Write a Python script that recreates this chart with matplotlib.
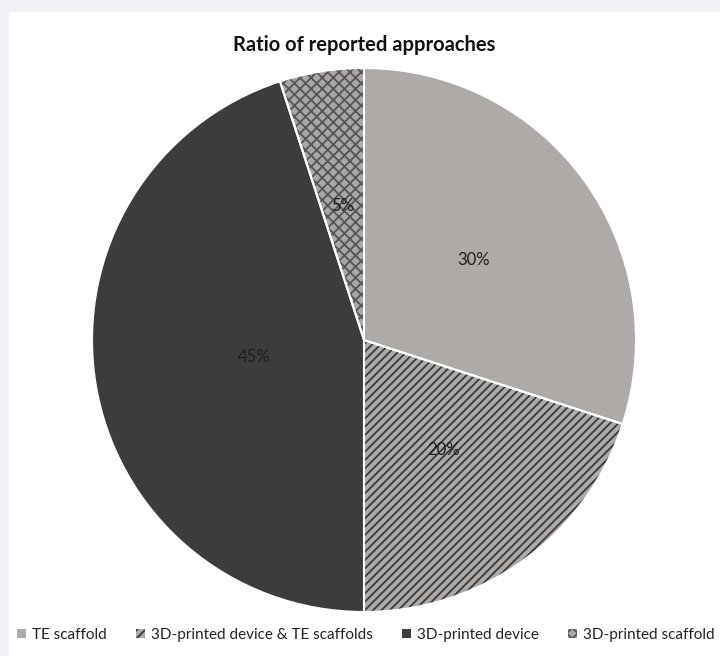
"""Pie chart: ratio of reported approaches."""

import matplotlib
matplotlib.use("Agg")
import matplotlib.pyplot as plt
from matplotlib.patches import Patch, Rectangle

labels = ["TE scaffold", "3D-printed device & TE scaffolds",
          "3D-printed device", "3D-printed scaffold"]
shares = [30, 20, 45, 5]

face_colors = ["#aeaaa8", "#aeaaa8", "#3c3c3c", "#a9a6a5"]
hatch_colors = ["#aeaaa8", "#3a3a3a", "#3c3c3c", "#555555"]
hatches = [None, "////", None, "xxx"]

plt.rcParams["font.family"] = ["Lato", "DejaVu Sans"]
plt.rcParams["hatch.linewidth"] = 1.3

W, H = 720, 656
fig = plt.figure(figsize=(W / 100, H / 100), dpi=100, facecolor="#f1f2f6")
# white canvas inside the light gray frame
fig.patches.append(Rectangle((9 / W, 0), 1, 1 - 12 / H, transform=fig.transFigure,
                             facecolor="white", edgecolor="none", zorder=-5))

cx, cy, r = 364, 340, 272
ax = fig.add_axes([(cx - r) / W, (H - cy - r) / H, 2 * r / W, 2 * r / H])
ax.patch.set_visible(False)

wedges, _, autotexts = ax.pie(
    shares, startangle=90, counterclock=False, colors=face_colors,
    autopct="%d%%", pctdistance=0.5,
    wedgeprops=dict(linewidth=0),
    textprops=dict(fontsize=12, color="#1e1e1e"),
)
for w, hc, ht in zip(wedges, hatch_colors, hatches):
    w.set_edgecolor(hc)
    w.set_linewidth(0)
    if ht:
        w.set_hatch(ht)
# white separators on top
ax.pie(shares, startangle=90, counterclock=False, colors=["none"] * 4,
       wedgeprops=dict(linewidth=1.5, edgecolor="white"))
# 45% label sits a little closer to the centre
x, y = autotexts[2].get_position()
autotexts[2].set_position((x * 0.82, y * 0.82))
ax.set_xlim(-1, 1)
ax.set_ylim(-1, 1)

fig.text(cx / W, 1 - 45 / H, "Ratio of reported approaches", ha="center",
         va="center", fontsize=14.5, fontweight="bold", color="#111111")

handles = [Patch(facecolor=fc, edgecolor=hc, hatch=ht, linewidth=0)
           for fc, hc, ht in zip(face_colors, hatch_colors, hatches)]
fig.legend(handles, labels, loc="center", bbox_to_anchor=(0.508, 1 - 635 / H),
           ncol=4, frameon=False, fontsize=11, handlelength=0.6,
           handleheight=0.6, handletextpad=0.4, columnspacing=1.9,
           labelcolor="#222222")

fig.savefig("out.png", dpi=100, facecolor=fig.get_facecolor())
